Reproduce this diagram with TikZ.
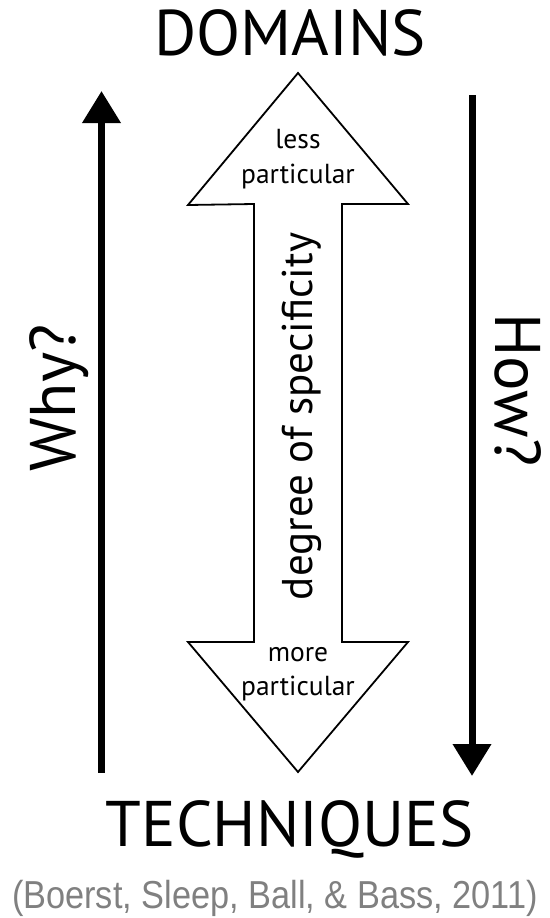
\documentclass[tikz,border=0pt]{standalone}
\usepackage{fontspec}
\setmainfont{PT Sans}
\newfontfamily\citefont[FakeStretch=0.88]{Liberation Sans}
\usetikzlibrary{arrows.meta}
\definecolor{citegray}{HTML}{808080}
\tikzset{
  bigtext/.style={inner sep=0pt, font=\fontsize{64.5}{70}\selectfont},
  smalltext/.style={inner sep=0pt, align=center, font=\fontsize{27.5}{34}\selectfont},
  spectext/.style={inner sep=0pt, font=\fontsize{43}{48}\selectfont},
  thickarrow/.style={line width=7pt, -{Triangle[width=37pt,length=32pt]}},
  outline/.style={line width=1.8pt, line join=miter, fill=white}
}
\begin{document}
\begin{tikzpicture}[x=1pt,y=1pt]
\useasboundingbox (0,0) rectangle (549,-918);
% titles
\node[bigtext, anchor=base] (domains) at (290,-55) {DOMAINS};
\node[bigtext, anchor=base] (techniques) at (289.5,-846) {TECHNIQUES};
\node[inner sep=0pt, anchor=base, text=citegray, font=\citefont\fontsize{39}{44}\selectfont] (cite) at (275,-908) {(Boerst, Sleep, Ball, \& Bass, 2011)};
% double arrow
\draw[outline] (298,-73) -- (408,-204) -- (342,-204) -- (342,-642) -- (408,-642)
  -- (298,-772) -- (188,-642) -- (254,-642) -- (254,-204) -- (188,-205) -- cycle;
\node[smalltext, anchor=base] (less) at (298,-148) {less};
\node[smalltext, anchor=base] (lesspart) at (298,-183) {particular};
\node[smalltext, anchor=base] (more) at (298,-661) {more};
\node[smalltext, anchor=base] (morepart) at (298,-695) {particular};
\node[spectext, anchor=base, rotate=90] (spec) at (312,-416.5) {degree of specificity};
% side arrows
\coordinate (whyS) at (101.5,-772.7);
\coordinate (whyE) at (101.5,-91);
\draw[thickarrow] (whyS) -- (whyE);
\coordinate (howS) at (472,-95);
\coordinate (howE) at (472,-776);
\draw[thickarrow] (howS) -- (howE);
\node[bigtext, anchor=base, rotate=90] (why) at (75,-398) {Why?};
\node[bigtext, anchor=base, rotate=-90] (how) at (495,-390) {How?};
\end{tikzpicture}
\end{document}
